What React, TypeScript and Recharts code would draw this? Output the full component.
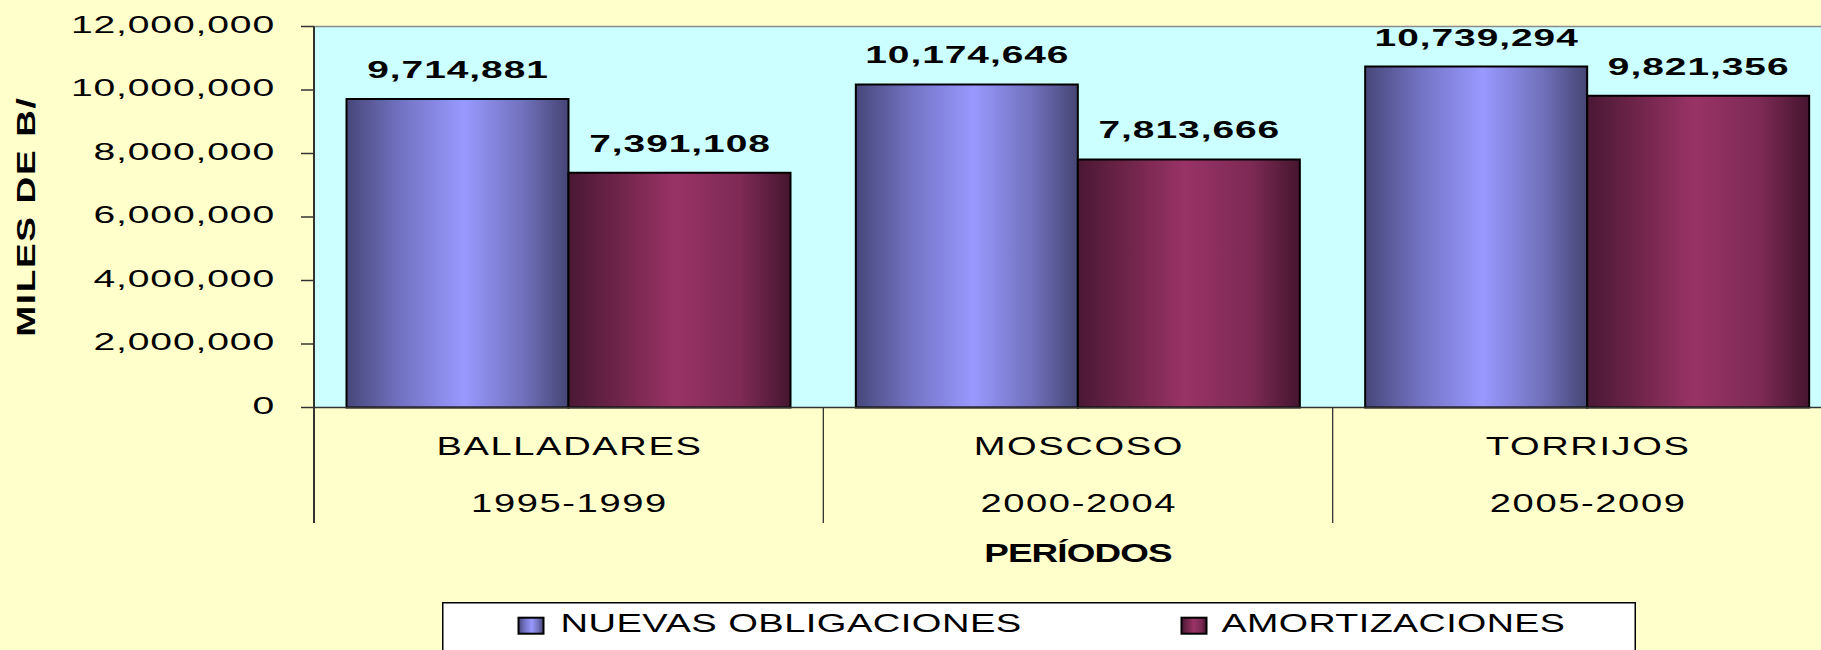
import React from "react";
import {
  BarChart,
  Bar,
  XAxis,
  YAxis,
  CartesianGrid,
  ReferenceLine,
  LabelList,
  Label,
  Legend,
} from "recharts";

// values
const periodNames = ["BALLADARES", "MOSCOSO", "TORRIJOS"];
const periodYears = ["1995-1999", "2000-2004", "2005-2009"];
const nuevasObligaciones = [9714881, 10174646, 10739294];
const amortizaciones = [7391108, 7813666, 9821356];
const yTicks = [0, 2000000, 4000000, 6000000, 8000000, 10000000, 12000000];
const seriesNames = ["NUEVAS OBLIGACIONES", "AMORTIZACIONES"];

const data = periodNames.map((name, i) => ({
  name,
  years: periodYears[i],
  nuevas: nuevasObligaciones[i],
  amort: amortizaciones[i],
}));

const CHART_W = 1860;
const CHART_H = 650;
const PLOT_LEFT = 314;
const PLOT_RIGHT = 1842;
const PLOT_TOP = 26.5;
const PLOT_BOTTOM = 407.5;
const X_AXIS_H = 120;

const FONT = '"Liberation Sans", Arial, sans-serif';
const STRETCH = 1.44; // the original picture is stretched sideways

const fmt = new Intl.NumberFormat("en-US");
const band = (PLOT_RIGHT - PLOT_LEFT) / periodNames.length;

function YTick(props: any) {
  const { x, y, payload } = props;
  return (
    <text
      transform={`translate(${x},${y + 6}) scale(1.7,1)`}
      textAnchor="end"
      fontFamily={FONT}
      fontSize={23}
      letterSpacing={0.5}
      fill="#000"
    >
      {fmt.format(payload.value)}
    </text>
  );
}

function XTick(props: any) {
  const { x, y, payload, index } = props;
  const left = x - band / 2;
  return (
    <g>
      <line
        x1={left}
        x2={left}
        y1={y}
        y2={y + 115.5}
        stroke="#333"
        strokeWidth={index === 0 ? 2 : 1.3}
      />
      <text
        transform={`translate(${x + 0.8},${y + 47.5}) scale(${STRETCH},1)`}
        textAnchor="middle"
        fontFamily={FONT}
        fontSize={26.5}
        letterSpacing={1.1}
        fill="#000"
      >
        {payload.value}
      </text>
      <text
        transform={`translate(${x + 0.8},${y + 104.2}) scale(${STRETCH},1)`}
        textAnchor="middle"
        fontFamily={FONT}
        fontSize={26.5}
        letterSpacing={1.1}
        fill="#000"
      >
        {periodYears[index]}
      </text>
    </g>
  );
}

function BarValue(props: any) {
  const { x, y, width, value } = props;
  return (
    <text
      transform={`translate(${x + width / 2 + 0.5},${y - 21}) scale(1.62,1)`}
      textAnchor="middle"
      fontFamily={FONT}
      fontWeight="bold"
      fontSize={24}
      letterSpacing={0.6}
      fill="#000"
    >
      {fmt.format(value)}
    </text>
  );
}

function XTitle(props: any) {
  const vb = props.viewBox;
  return (
    <text
      transform={`translate(${vb.x + vb.width / 2},${vb.y + 154.2}) scale(${STRETCH},1)`}
      textAnchor="middle"
      fontFamily={FONT}
      fontWeight="bold"
      fontSize={25.6}
      letterSpacing={-0.6}
      fill="#000"
    >
      PERÍODOS
    </text>
  );
}

function YTitle() {
  return (
    <g>
      <defs>
        <clipPath id="yTitleClip" clipPathUnits="userSpaceOnUse">
          <rect x={0} y={96} width={120} height={500} />
        </clipPath>
      </defs>
      <g clipPath="url(#yTitleClip)">
        <text
          transform={`translate(35,336.7) rotate(-90) scale(1.45,1)`}
          textAnchor="start"
          fontFamily={FONT}
          fontWeight="bold"
          fontSize={25.6}
          letterSpacing={1.1}
          fill="#000"
        >
          MILES DE B/.
        </text>
      </g>
    </g>
  );
}

function LegendBox() {
  const items = [
    { name: seriesNames[0], fill: "url(#gradBlue)", icon: 76.5, text: 118.5, scale: 1.44 },
    { name: seriesNames[1], fill: "url(#gradRed)", icon: 739.5, text: 779.5, scale: 1.42 },
  ];
  return (
    <svg width={1194} height={60} style={{ display: "block" }}>
      <rect x={0.75} y={0.75} width={1192.5} height={70} fill="#fff" stroke="#000" strokeWidth={1.5} />
      {items.map((it) => (
        <g key={it.name}>
          <rect x={it.icon} y={15.7} width={25} height={16} fill={it.fill} stroke="#000" strokeWidth={2} />
          <text
            transform={`translate(${it.text},30) scale(${it.scale},1)`}
            fontFamily={FONT}
            fontSize={26.5}
            letterSpacing={0.3}
            fill="#000"
          >
            {it.name}
          </text>
        </g>
      ))}
    </svg>
  );
}

export default function App() {
  return (
    <div
      style={{
        position: "absolute",
        left: 0,
        top: 0,
        width: 1821,
        height: 650,
        overflow: "hidden",
        background: "#FFFFCC",
      }}
    >
      <BarChart
        width={CHART_W}
        height={CHART_H}
        data={data}
        margin={{
          top: PLOT_TOP,
          right: CHART_W - PLOT_RIGHT,
          left: 0,
          bottom: CHART_H - PLOT_BOTTOM - X_AXIS_H,
        }}
        barCategoryGap={32.5}
        barGap={0}
      >
        <defs>
          <linearGradient id="gradBlue" x1="0" y1="0" x2="1" y2="0">
            <stop offset="0%" stopColor="#47477a" />
            <stop offset="25%" stopColor="#7373c4" />
            <stop offset="53%" stopColor="#9999ff" />
            <stop offset="80%" stopColor="#7070bb" />
            <stop offset="100%" stopColor="#454574" />
          </linearGradient>
          <linearGradient id="gradRed" x1="0" y1="0" x2="1" y2="0">
            <stop offset="0%" stopColor="#4a1834" />
            <stop offset="22%" stopColor="#6e2449" />
            <stop offset="48%" stopColor="#993366" />
            <stop offset="78%" stopColor="#7d2a55" />
            <stop offset="100%" stopColor="#45152e" />
          </linearGradient>
        </defs>
        <CartesianGrid horizontal={false} vertical={false} fill="#CCFFFF" fillOpacity={1} stroke="none" />
        <ReferenceLine y={12000000} stroke="#8a8a8a" strokeWidth={1.5} />
        <XAxis
          dataKey="name"
          height={X_AXIS_H}
          interval={0}
          tickLine={false}
          tickSize={0}
          tickMargin={0}
          axisLine={{ stroke: "#333", strokeWidth: 1.5 }}
          tick={<XTick />}
        >
          <Label content={<XTitle />} />
        </XAxis>
        <YAxis
          width={PLOT_LEFT}
          domain={[0, 12000000]}
          ticks={yTicks}
          interval={0}
          tickSize={13}
          tickMargin={26}
          axisLine={{ stroke: "#333", strokeWidth: 2 }}
          tickLine={{ stroke: "#333", strokeWidth: 1.5 }}
          tick={<YTick />}
        >
          <Label content={<YTitle />} />
        </YAxis>
        <Legend
          layout="horizontal"
          verticalAlign="middle"
          align="center"
          content={() => <LegendBox />}
          wrapperStyle={{ left: 441.5, top: 602, width: 1194, height: 60 }}
        />
        <Bar
          dataKey="nuevas"
          name={seriesNames[0]}
          fill="url(#gradBlue)"
          stroke="#000"
          strokeWidth={2}
          isAnimationActive={false}
        >
          <LabelList dataKey="nuevas" content={<BarValue />} />
        </Bar>
        <Bar
          dataKey="amort"
          name={seriesNames[1]}
          fill="url(#gradRed)"
          stroke="#000"
          strokeWidth={2}
          isAnimationActive={false}
        >
          <LabelList dataKey="amort" content={<BarValue />} />
        </Bar>
      </BarChart>
    </div>
  );
}
